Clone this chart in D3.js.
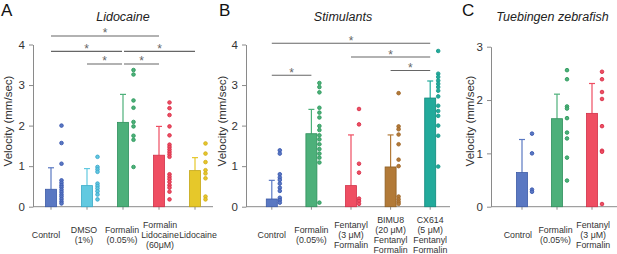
<!DOCTYPE html>
<html>
<head>
<meta charset="utf-8">
<script src="https://cdn.jsdelivr.net/npm/d3@7"></script>
<style>
  body { margin: 0; background: #fff; }
  svg { font-family: "Liberation Sans", Arial, sans-serif; }
</style>
</head>
<body>
<svg class="main" width="617" height="254"></svg>
<script>
// A - Lidocaine
const labelsA = [["Control"], ["DMSO", "(1%)"], ["Formalin", "(0.05%)"], ["Formalin", "Lidocaine", "(60μM)"], ["Lidocaine"]];
const meansA = [0.43, 0.52, 2.08, 1.27, 0.89];
const errA = [0.96, 0.94, 2.77, 1.98, 1.21];
const dotsA = [
    [2.0, 1.57, 1.06, 0.65, 0.59, 0.53, 0.48, 0.42, 0.36, 0.3, 0.25, 0.19, 0.13, 0.08],
    [1.23, 0.98, 0.92, 0.86, 0.57, 0.51, 0.45, 0.38, 0.3, 0.18],
    [3.37, 3.26, 2.62, 2.44, 2.09, 1.98, 1.75, 1.65, 0.98],
    [2.57, 2.43, 2.26, 1.98, 1.76, 1.53, 1.47, 1.41, 1.35, 1.29, 1.23, 0.8, 0.74, 0.68, 0.61, 0.53, 0.47, 0.37, 0.18],
    [1.56, 1.31, 1.1, 0.9, 0.82, 0.7, 0.25, 0.18]
];
const colorsA = ["blue", "cyan", "green", "red", "yellow"];
const sigA = [[0, 3, 4.21], [0, 2, 3.83], [2, 4, 3.83], [1, 2, 3.52], [2, 3, 3.52]];

// B - Stimulants
const labelsB = [["Control"], ["Formalin", "(0.05%)"], ["Fentanyl", "(3 μM)", "Formalin"], ["BIMU8", "(20 μM)", "Fentanyl", "Formalin"], ["CX614", "(5 μM)", "Fentanyl", "Formalin"]];
const meansB = [0.19, 1.8, 0.52, 0.98, 2.68];
const errB = [0.65, 2.4, 1.77, 1.77, 3.1];
const dotsB = [
    [1.39, 1.31, 0.8, 0.72, 0.66, 0.57, 0.47, 0.39, 0.22, 0.16, 0.1],
    [3.05, 2.95, 2.82, 2.44, 2.32, 2.2, 1.99, 1.89, 1.76, 1.66, 1.54, 1.42, 1.31, 1.21, 1.09, 0.1],
    [2.41, 2.03, 1.06, 0.84, 0.2, 0.14, 0.07],
    [2.8, 1.98, 1.91, 1.78, 1.54, 1.16, 1.0, 0.25, 0.18, 0.12, 0.07],
    [3.84, 3.28, 3.2, 3.11, 3.03, 2.95, 2.86, 2.72, 2.49, 2.36, 2.24, 2.0, 1.75, 0.99]
];
const colorsB = ["blue", "green", "red", "brown", "teal"];
const sigB = [[0, 4, 4.03], [2, 4, 3.69], [3, 4, 3.36], [0, 1, 3.24]];

// C - Tuebingen zebrafish
const labelsC = [["Control"], ["Formalin", "(0.05%)"], ["Fentanyl", "(3 μM)", "Formalin"]];
const meansC = [0.64, 1.65, 1.75];
const errC = [1.26, 2.11, 2.31];
const dotsC = [
    [1.37, 1.0, 0.32, 0.28],
    [2.56, 2.39, 1.88, 1.84, 1.66, 1.39, 1.28, 0.92, 0.49],
    [2.53, 2.39, 2.15, 2.02, 1.51, 1.05, 1.03, 0.05]
];
const colorsC = ["blue", "green", "red"];

const palette = {
    blue:   {fill: "#5a78c2", stroke: "#3c5aa6", dot: "#3a58b0"},
    cyan:   {fill: "#62c9e0", stroke: "#3aa9c6", dot: "#3aa6cc"},
    green:  {fill: "#4db07a", stroke: "#2f8f5c", dot: "#2c9a5c"},
    red:    {fill: "#ef4e62", stroke: "#d03048", dot: "#d8304a"},
    yellow: {fill: "#e6c82a", stroke: "#c4a614", dot: "#d2ae1e"},
    brown:  {fill: "#b27a38", stroke: "#8e5e22", dot: "#a0682a"},
    teal:   {fill: "#22aa9b", stroke: "#12897d", dot: "#179a8a"}
};

const svg = d3.select("svg.main");
const axisColor = "#8a8a8a";

const drawPanel = (p) => {
    const y = d3.scaleLinear().domain([0, p.yMax]).range([206.7, p.yTop]);
    const x = d3.scaleBand().domain(d3.range(p.means.length)).range(p.band);
    const xl = d3.scaleBand().domain(d3.range(p.means.length)).range(p.labelBand);
    const cx = (i) => x(i) + x.bandwidth() / 2;
    const g = svg.append("g");

    // y axis
    g.append("g")
        .attr("transform", `translate(${p.axisX},0)`)
        .call(d3.axisLeft(y).tickValues(d3.range(0, p.yMax + 1)).tickFormat(d3.format("d"))
            .tickSize(4).tickSizeOuter(0).tickPadding(4))
        .call(a => a.selectAll("path, line").attr("stroke", axisColor))
        .call(a => a.selectAll("text").attr("font-size", 11.5).attr("fill", "#333"));

    // x axis
    g.append("line")
        .attr("x1", p.axisX).attr("x2", p.axisEnd)
        .attr("y1", y(0)).attr("y2", y(0))
        .attr("stroke", axisColor);
    g.selectAll(".xt").data(p.means).join("line")
        .attr("x1", (d, i) => cx(i)).attr("x2", (d, i) => cx(i))
        .attr("y1", y(0)).attr("y2", y(0) + 3)
        .attr("stroke", axisColor);

    // error bars (upper only)
    p.means.forEach((m, i) => {
        const c = palette[p.colors[i]].fill;
        g.append("line")
            .attr("x1", cx(i)).attr("x2", cx(i))
            .attr("y1", y(m)).attr("y2", y(p.err[i]))
            .attr("stroke", c).attr("stroke-width", 1.2);
        g.append("line")
            .attr("x1", cx(i) - 3).attr("x2", cx(i) + 3)
            .attr("y1", y(p.err[i])).attr("y2", y(p.err[i]))
            .attr("stroke", c).attr("stroke-width", 1.2);
    });

    // bars
    g.selectAll(".bar").data(p.means).join("rect")
        .attr("x", (d, i) => cx(i) - 5.5)
        .attr("width", 11)
        .attr("y", d => y(d))
        .attr("height", d => y(0) - y(d))
        .attr("fill", (d, i) => palette[p.colors[i]].fill)
        .attr("stroke", (d, i) => palette[p.colors[i]].stroke)
        .attr("stroke-width", 0.8);

    // individual points
    p.dots.forEach((vals, i) => {
        g.selectAll(null).data(vals).join("circle")
            .attr("cx", cx(i) + p.dotDx)
            .attr("cy", d => y(d))
            .attr("r", 1.8)
            .attr("fill", palette[p.colors[i]].fill)
            .attr("stroke", palette[p.colors[i]].dot)
            .attr("stroke-width", 0.9);
    });

    // significance lines
    p.sig.forEach(([a, b, v]) => {
        const x1 = cx(a) + (a === 2 && p.split ? 1 : 0);
        const x2 = cx(b) - (b === 2 && p.split ? 1 : 0);
        g.append("line")
            .attr("x1", x1).attr("x2", x2)
            .attr("y1", y(v)).attr("y2", y(v))
            .attr("stroke", "#666").attr("stroke-width", 1.1);
        g.append("text")
            .attr("x", (x1 + x2) / 2).attr("y", y(v) + 1.5)
            .attr("text-anchor", "middle")
            .attr("font-size", 12).attr("fill", "#666")
            .text("*");
    });

    // category labels
    p.labels.forEach((lines, i) => {
        const t = g.append("text")
            .attr("text-anchor", "middle")
            .attr("font-size", 8.8).attr("fill", "#333");
        lines.forEach((s, k) => {
            t.append("tspan")
                .attr("x", xl(i) + xl.bandwidth() / 2)
                .attr("y", 237.8 - (lines.length - 1) * 10.2 / 2 + k * 10.2)
                .text(s);
        });
    });

    // y label, title, panel letter
    g.append("text")
        .attr("transform", `translate(${p.ylabX},121) rotate(-90)`)
        .attr("text-anchor", "middle")
        .attr("dominant-baseline", "central")
        .attr("font-size", 11.5).attr("fill", "#333")
        .text("Velocity (mm/sec)");
    g.append("text")
        .attr("x", p.titleX).attr("y", 21)
        .attr("text-anchor", "middle")
        .attr("font-size", 12.5).attr("font-style", "italic").attr("fill", "#222")
        .text(p.title);
    g.append("text")
        .attr("x", p.letterX).attr("y", 15.5)
        .attr("font-size", 17).attr("fill", "#111")
        .text(p.letter);
};

drawPanel({
    means: meansA, err: errA, dots: dotsA, colors: colorsA, labels: labelsA, sig: sigA, split: true,
    yMax: 4, yTop: 44.5, axisX: 33, axisEnd: 213, band: [33, 213], labelBand: [27, 217], dotDx: 10.5,
    ylabX: 8, title: "Lidocaine", titleX: 123, letter: "A", letterX: 1
});
drawPanel({
    means: meansB, err: errB, dots: dotsB, colors: colorsB, labels: labelsB, sig: sigB, split: false,
    yMax: 4, yTop: 44.5, axisX: 246, axisEnd: 450, band: [252, 450], labelBand: [252, 450], dotDx: 8,
    ylabX: 222, title: "Stimulants", titleX: 343, letter: "B", letterX: 219
});
drawPanel({
    means: meansC, err: errC, dots: dotsC, colors: colorsC, labels: labelsC, sig: [], split: false,
    yMax: 3, yTop: 46.7, axisX: 491, axisEnd: 617, band: [504.5, 609.5], labelBand: [499, 612], dotDx: 10,
    ylabX: 470, title: "Tuebingen zebrafish", titleX: 552.5, letter: "C", letterX: 462
});
</script>
</body>
</html>
